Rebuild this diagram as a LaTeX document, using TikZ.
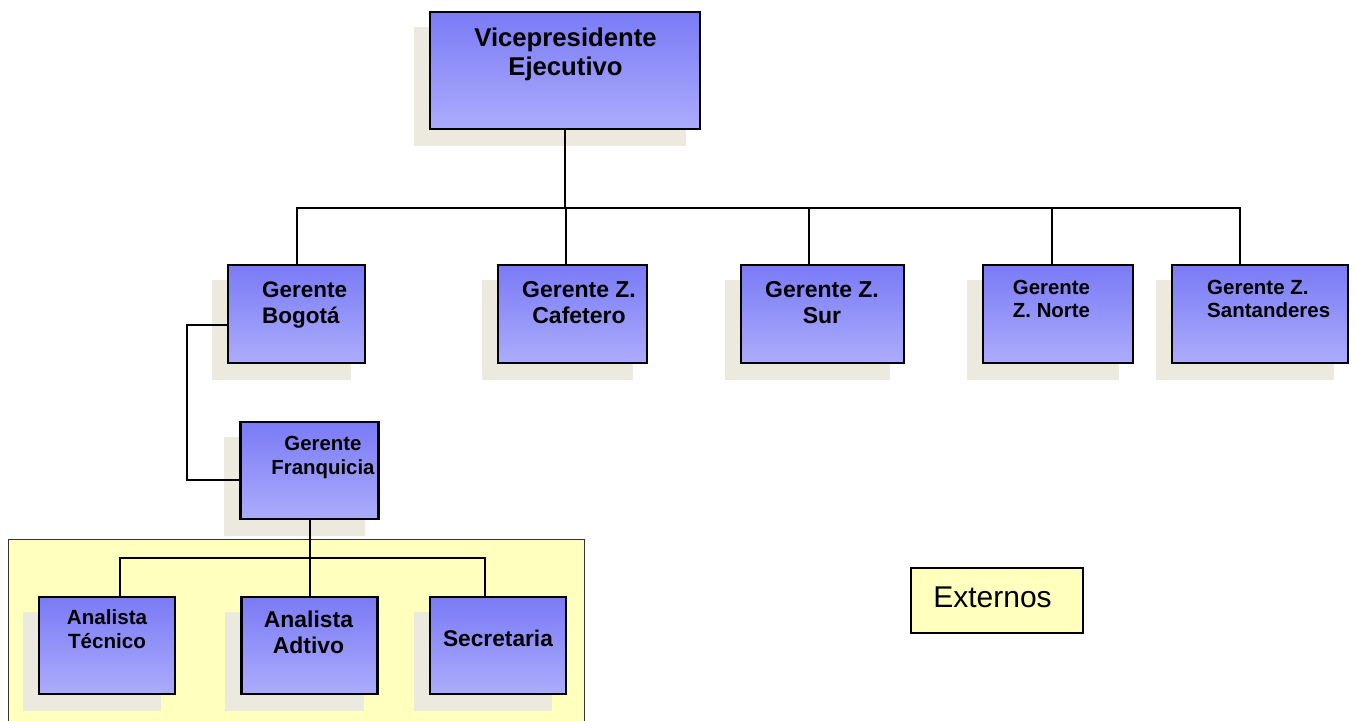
\documentclass[tikz,border=0pt]{standalone}
\usepackage{fontspec}
\setmainfont{Liberation Sans}
\usetikzlibrary{backgrounds}

\definecolor{boxtop}{RGB}{122,122,246}
\definecolor{boxbot}{RGB}{172,172,252}
\definecolor{shadowc}{RGB}{236,233,223}
\definecolor{areac}{RGB}{255,255,190}

% multi-line label: size, leading, column alignment, rows
\newcommand\orgtext[4]{{\fontsize{#1}{#2}\selectfont
  \begin{tabular}[t]{@{}#3@{}}#4\end{tabular}}}

\tikzset{
  orgbox/.style={draw=black, line width=2.6pt, top color=boxtop,
    bottom color=boxbot, inner sep=0pt, rectangle},
  lbl/.style={inner sep=0pt, anchor=base, font=\bfseries},
  link/.style={draw=black, line width=2pt},
  boxshadow/.style={fill=shadowc, draw=none},
}

\begin{document}
\begin{tikzpicture}[x=1pt, y=-1pt]
\useasboundingbox (0,0) rectangle (1356,720);

% ---- boxes ----
\node[orgbox, minimum width=270pt, minimum height=117pt] (vp)  at (565,70.5) {};
\node[orgbox, minimum width=137pt, minimum height=98pt]  (bog) at (296.5,314) {};
\node[orgbox, minimum width=149pt, minimum height=98pt]  (caf) at (572.5,314) {};
\node[orgbox, minimum width=163pt, minimum height=98pt]  (sur) at (822.5,314) {};
\node[orgbox, minimum width=150pt, minimum height=98pt]  (nor) at (1058,314) {};
\node[orgbox, minimum width=176pt, minimum height=98pt]  (san) at (1260,314) {};
\node[orgbox, minimum width=138pt, minimum height=97pt]  (fra) at (309.5,470.5) {};
\node[orgbox, minimum width=136pt, minimum height=97pt]  (tec) at (107,645.5) {};
\node[orgbox, minimum width=136pt, minimum height=97pt]  (adt) at (309.5,645.5) {};
\node[orgbox, minimum width=136pt, minimum height=97pt]  (sec) at (498,645.5) {};
\node[draw=black, line width=2pt, fill=areac, minimum width=172pt,
      minimum height=65pt, inner sep=0pt] (ext) at (997,600.5) {};

% ---- labels ----
\node[lbl] (vp-t)  at (565.5,46) {\orgtext{25.7}{29}{c}{Vicepresidente\\Ejecutivo}};
\node[lbl, anchor=base west] (bog-t) at (262,297) {\orgtext{22.5}{26}{l}{Gerente\\Bogotá}};
\node[lbl] (caf-t) at (579,297) {\orgtext{23}{26}{c}{Gerente Z.\\Cafetero}};
\node[lbl] (sur-t) at (822,297) {\orgtext{23}{26}{c}{Gerente Z.\\Sur}};
\node[lbl] (nor-t) at (1051.5,294) {\orgtext{20.4}{23}{c}{Gerente\\Z. Norte}};
\node[lbl, anchor=base west] (san-t) at (1207,294) {\orgtext{20.5}{23}{l}{Gerente Z.\\Santanderes}};
\node[lbl] (fra-t) at (323,450) {\orgtext{20.4}{24}{c}{Gerente\\Franquicia}};
\node[lbl] (tec-t) at (107,624) {\orgtext{20.6}{24}{c}{Analista\\Técnico}};
\node[lbl] (adt-t) at (308.5,627) {\orgtext{22.9}{26}{c}{Analista\\Adtivo}};
\node[lbl] (sec-t) at (498,646) {\fontsize{22.7}{26}\selectfont Secretaria};
\node[inner sep=0pt, anchor=base] (ext-t) at (992.5,607) {\fontsize{30}{34}\selectfont Externos};

% ---- connectors ----
\coordinate (bus)  at (565,208);
\coordinate (bus2) at (309.5,558);
\draw[link] (vp.south) -- (bus);
\draw[link] (bog.north) |- (bus) -| ([xshift=-20pt]san.north);
\draw[link] ([xshift=-6.5pt]caf.north) -- ([xshift=-6.5pt]caf.north |- bus);
\draw[link] ([xshift=-13.5pt]sur.north) -- ([xshift=-13.5pt]sur.north |- bus);
\draw[link] ([xshift=-6pt]nor.north) -- ([xshift=-6pt]nor.north |- bus);
\draw[link] ([yshift=-11pt]bog.west) -- ++(-40,0) |- ([yshift=-9.5pt]fra.west);
\draw[link] (fra.south) -- (adt.north);
\draw[link] ([xshift=13pt]tec.north) |- (bus2) -| ([xshift=-13pt]sec.north);

% ---- page, shaded area and box shadows ----
\begin{scope}[on background layer]
  \fill[white] (0,0) rectangle (1356,720);
  \filldraw[fill=areac, draw=black!80, line width=1pt] (8,539) rectangle (584,730);
  \foreach \n in {vp,bog,caf,sur,nor,san,fra,tec,adt,sec}
    \fill[boxshadow] ([xshift=-15pt,yshift=-16pt]\n.north west)
      rectangle ([xshift=-15pt,yshift=-16pt]\n.south east);
\end{scope}
\end{tikzpicture}
\end{document}
